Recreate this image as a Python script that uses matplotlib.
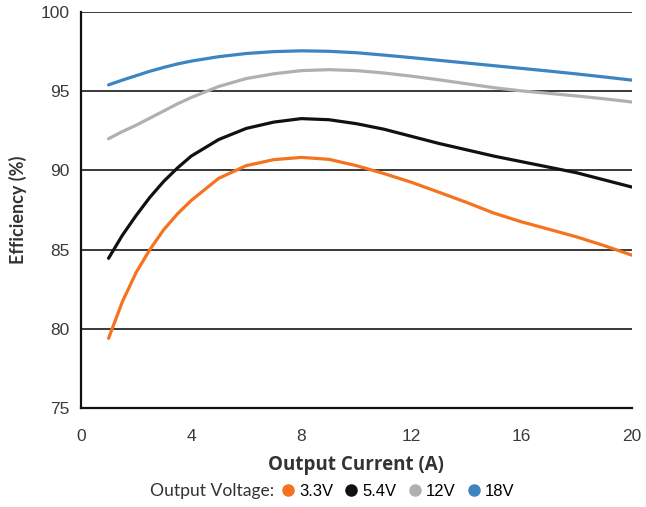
import matplotlib.pyplot as plt
from matplotlib.lines import Line2D

# output current (A)
current = [1, 1.5, 2, 2.5, 3, 3.5, 4, 5, 6, 7, 8, 9, 10, 11, 12, 13, 14, 15, 16, 17, 18, 19, 20]

eff_3v3 = [79.4, 81.7, 83.55, 85.0, 86.25, 87.25, 88.1, 89.5, 90.3, 90.68, 90.82, 90.7, 90.3,
           89.8, 89.25, 88.62, 87.98, 87.3, 86.75, 86.28, 85.8, 85.25, 84.65]
eff_5v4 = [84.45, 85.9, 87.15, 88.3, 89.3, 90.15, 90.9, 91.95, 92.65, 93.05, 93.27, 93.2, 92.95,
           92.6, 92.15, 91.7, 91.3, 90.9, 90.55, 90.2, 89.85, 89.4, 88.95]
eff_12v = [92.0, 92.45, 92.85, 93.3, 93.75, 94.2, 94.6, 95.3, 95.8, 96.1, 96.3, 96.36, 96.3,
           96.15, 95.95, 95.72, 95.47, 95.22, 95.02, 94.86, 94.7, 94.52, 94.32]
eff_18v = [95.4, 95.7, 95.98, 96.26, 96.5, 96.72, 96.9, 97.18, 97.38, 97.5, 97.55, 97.52, 97.43,
           97.28, 97.12, 96.95, 96.78, 96.61, 96.44, 96.27, 96.09, 95.9, 95.7]

labels = ['3.3V', '5.4V', '12V', '18V']
colors = ['#f5721f', '#111111', '#b0b0b0', '#3d85c1']
series = [eff_3v3, eff_5v4, eff_12v, eff_18v]

xticks = [0, 4, 8, 12, 16, 20]
yticks = [75, 80, 85, 90, 95, 100]

fig = plt.figure(figsize=(6.46, 5.07), dpi=100)
ax = fig.add_axes([0.1254, 0.1953, 0.978 - 0.1254, 0.9763 - 0.1953])

for y in yticks[1:]:
    ax.axhline(y, color='#2a2a2a', linewidth=1.3, zorder=1)

for vals, c in zip(series, colors):
    ax.plot(current, vals, color=c, linewidth=2.3, zorder=3,
            solid_capstyle='round', solid_joinstyle='round')

ax.set_xlim(0, 20)
ax.set_ylim(75, 100)
ax.set_xticks(xticks)
ax.set_yticks(yticks)
ax.tick_params(length=0, labelsize=12.5, labelcolor='#3a3a3a')
ax.tick_params(axis='x', pad=15)
ax.tick_params(axis='y', pad=8)
for lab in ax.get_xticklabels() + ax.get_yticklabels():
    lab.set_family('Liberation Sans')

for s in ['top', 'right']:
    ax.spines[s].set_visible(False)
ax.spines['left'].set_linewidth(1.6)
ax.spines['bottom'].set_linewidth(1.6)
ax.spines['left'].set_color('#111111')
ax.spines['bottom'].set_color('#111111')

ax.set_xlabel('Output Current (A)', family='Open Sans', fontweight='bold', fontsize=13.5,
              color='#333333', labelpad=8)
ax.set_ylabel('Efficiency (%)', family='Lato', fontweight='bold', fontsize=13,
              color='#333333', labelpad=10)

handles = [Line2D([], [], marker='o', linestyle='', color=c, markersize=8) for c in colors]
fig.text(274 / 646, 1 - 491 / 507, 'Output Voltage:', family='Lato', fontsize=12.6,
         color='#333333', ha='right', va='center')
fig.legend(handles, labels, loc='center left', bbox_to_anchor=(283 / 646, 1 - 491 / 507),
           ncol=4, frameon=False, handlelength=0.6, handletextpad=0.35, columnspacing=0.8,
           prop={'family': 'Liberation Sans', 'size': 12}, borderaxespad=0, borderpad=0)

fig.savefig('out.png', dpi=100, facecolor='white')
